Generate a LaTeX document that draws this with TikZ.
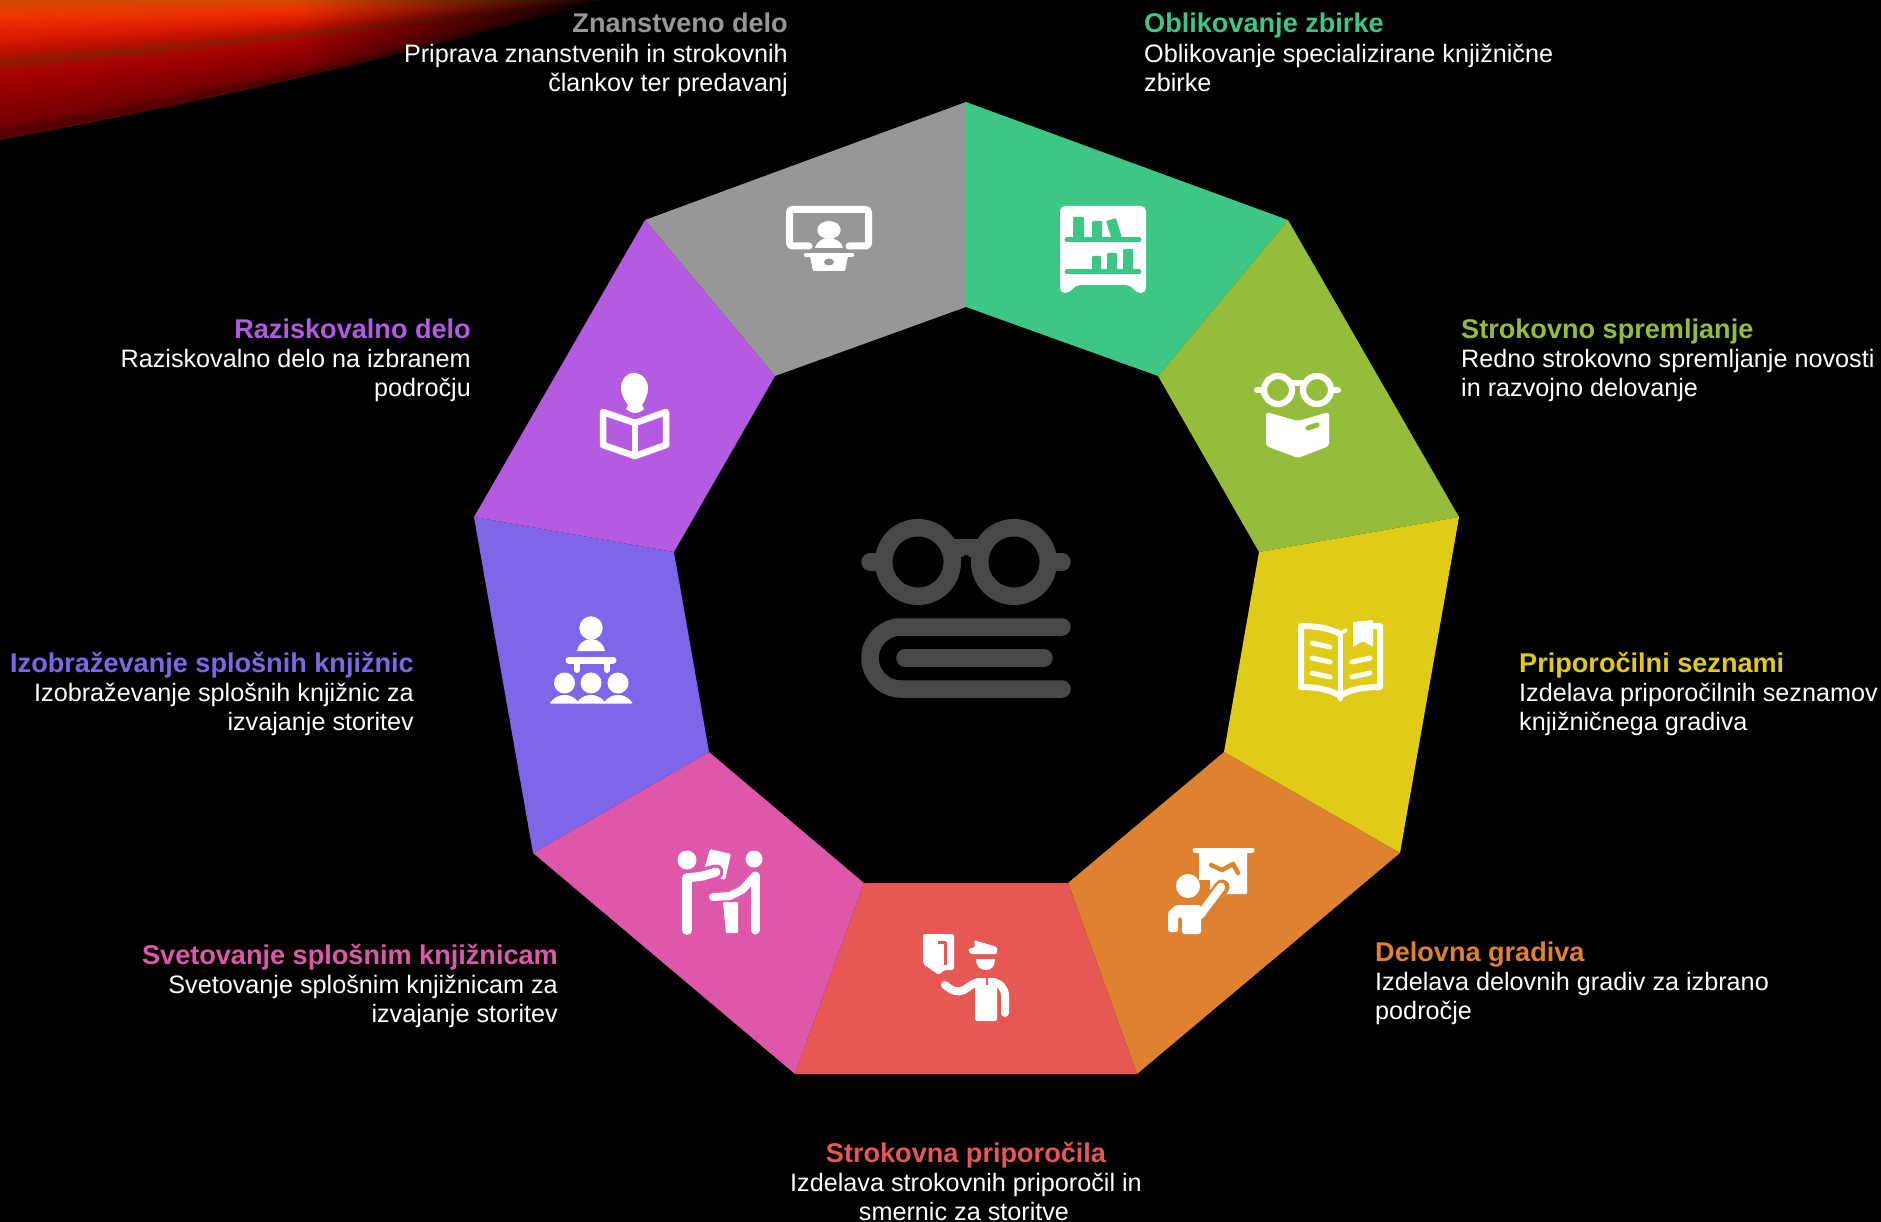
\documentclass[tikz,border=0pt]{standalone}
\usepackage{fontspec}
\setmainfont{Liberation Sans}
\usetikzlibrary{fadings}
\definecolor{cgray}{HTML}{979797}
\definecolor{cgreen}{HTML}{3EC684}
\definecolor{colive}{HTML}{94BD3B}
\definecolor{cyellow}{HTML}{E0CC16}
\definecolor{corange}{HTML}{DE8230}
\definecolor{cred}{HTML}{E75754}
\definecolor{cpink}{HTML}{DF57A8}
\definecolor{cblue}{HTML}{7F66E8}
\definecolor{cpurple}{HTML}{B55BE2}
\definecolor{cdark}{HTML}{484848}
\definecolor{s0}{HTML}{D04C00}
\definecolor{s8}{HTML}{E04000}
\definecolor{sA}{HTML}{F03000}
\definecolor{sB}{HTML}{D81A00}
\definecolor{sC}{HTML}{B81000}
\definecolor{sD}{HTML}{8C1C00}
\definecolor{sE}{HTML}{A80800}
\definecolor{sF}{HTML}{A00000}
\definecolor{sG}{HTML}{780000}
\definecolor{sH}{HTML}{500000}
\definecolor{sI}{HTML}{5A0600}
\tikzset{
  ico/.style={fill=white,draw=none},
  icl/.style={draw=white,line cap=round,line join=round,line width=#1},
  icl/.default=5,
  lbl/.style={inner sep=0pt,text=white,font=\fontsize{25.2}{29}\selectfont},
}
\newcommand{\lbltitle}[2]{{\fontsize{27.1}{29}\selectfont\bfseries\color{#1}\rule{0pt}{20pt}#2}}
\begin{document}
\begin{tikzpicture}[x=1pt,y=-1pt]
\useasboundingbox (0,0) rectangle (1881,1222);
\fill[black] (0,0) rectangle (1881,1222);
% swoosh
\foreach \ta/\tb/\ca/\cb in {140/135/sI/sH,135/124/sH/sG,124/85/sG/sF,85/72/sF/sE,72/63/sE/sD,63/54/sD/sC,54/40/sC/sB,40/20/sB/sA,20/8/sA/s8,8/0/s8/s0}{
  \foreach \k in {0,...,7}{
    \pgfmathsetmacro{\yy}{\ta+(\tb-\ta)*\k/8}
    \pgfmathsetmacro{\kk}{\k*12.5}
    \fill[color=\cb!\kk!\ca] (0,\yy) .. controls (200,0.736*\yy) and (400,0.407*\yy) .. (600,0) -- (0,0) -- cycle;
  }
}
\fill[black,path fading=west] (300,-1) rectangle (625,145);
% segments
\fill[cgray] (966,102) -- (645,220) -- (775,376) -- (966,307) -- cycle;
\fill[cgreen] (966,102) -- (1288,220) -- (1158,376) -- (966,307) -- cycle;
\fill[colive] (1288,220) -- (1459,517) -- (1259,552) -- (1158,376) -- cycle;
\fill[cyellow] (1459,517) -- (1400,853) -- (1224,752) -- (1259,552) -- cycle;
\fill[corange] (1400,853) -- (1137,1074) -- (1068,883) -- (1224,752) -- cycle;
\fill[cred] (1137,1074) -- (795,1074) -- (864,883) -- (1068,883) -- cycle;
\fill[cpink] (795,1074) -- (533,853) -- (709,752) -- (864,883) -- cycle;
\fill[cblue] (533,853) -- (474,517) -- (674,552) -- (709,752) -- cycle;
\fill[cpurple] (474,517) -- (645,220) -- (775,376) -- (674,552) -- cycle;
% labels
\node[lbl,anchor=north east,align=right] (t1) at (788,12) {\lbltitle{cgray}{Znanstveno delo}\\[1pt]Priprava znanstvenih in strokovnih\\člankov ter predavanj};
\node[lbl,anchor=north west,align=left] (t2) at (1144,12) {\lbltitle{cgreen}{Oblikovanje zbirke}\\[1pt]Oblikovanje specializirane knjižnične\\zbirke};
\node[lbl,anchor=north west,align=left] (t3) at (1461,318) {\lbltitle{colive}{Strokovno spremljanje}\\Redno strokovno spremljanje novosti\\in razvojno delovanje};
\node[lbl,anchor=north west,align=left] (t4) at (1519,652) {\lbltitle{cyellow}{Priporočilni seznami}\\Izdelava priporočilnih seznamov\\knjižničnega gradiva};
\node[lbl,anchor=north west,align=left] (t5) at (1375,941) {\lbltitle{corange}{Delovna gradiva}\\Izdelava delovnih gradiv za izbrano\\področje};
\node[lbl,anchor=north,align=center] (t6) at (966,1142.5) {\lbltitle{cred}{Strokovna priporočila}\\Izdelava strokovnih priporočil in\hspace*{4pt}\\smernic za storitve\hspace*{4pt}};
\node[lbl,anchor=north east,align=right] (t7) at (558,944) {\lbltitle{cpink}{Svetovanje splošnim knjižnicam}\\Svetovanje splošnim knjižnicam za\\izvajanje storitev};
\node[lbl,anchor=north east,align=right] (t8) at (414,652) {\lbltitle{cblue}{Izobraževanje splošnih knjižnic}\\Izobraževanje splošnih knjižnic za\\izvajanje storitev};
\node[lbl,anchor=north east,align=right] (t9) at (471,318) {\lbltitle{cpurple}{Raziskovalno delo}\\Raziskovalno delo na izbranem\\področju};
% centre icon
\begin{scope}[draw=cdark,line width=17.5,line cap=round]
\draw (918,562) circle (34.3);
\draw (1014,562) circle (34.3);
\draw (870,562) -- (878,562);
\draw (1054,562) -- (1062,562);
\draw[line cap=butt] (952,548) -- (980,548);
\draw[line cap=round,line join=round] (1062,627) -- (901,627) .. controls (884,627) and (870,641) .. (870,658) .. controls (870,675) and (884,689) .. (901,689) -- (1062,689);
\draw (905,658) -- (1044,658);
\end{scope}
\fill[black] (966,558) circle (3.2);
% gray icon: lecturer on screen
\draw[icl=7] (809,246) -- (793,246) [rounded corners=3pt] -- (789.5,246) -- (789.5,209.5) -- (868.5,209.5) -- (868.5,246) -- (849,246);
\fill[ico] (829,230) ellipse (11.7 and 9);
\fill[ico] (815,248) .. controls (817,241) and (823,238) .. (829,238) .. controls (835,238) and (841,241) .. (843,248) -- cycle;
\draw[icl=4.5] (806,255) -- (852,255);
\fill[ico,rounded corners=1pt] (810,256) -- (848,256) -- (845,271) -- (813,271) -- cycle;
\fill[cgray] (829,262) ellipse (5 and 3.5);
% green icon: bookshelf
\fill[ico,rounded corners=5pt] (1060,206) -- (1146,206) -- (1146,293) -- (1136,293) -- (1131,285) -- (1075,285) -- (1070,293) -- (1060,293) -- cycle;
\draw[icl=5,draw=cgreen] (1067,240) -- (1139,240);
\draw[icl=5,draw=cgreen] (1067,272) -- (1139,272);
\begin{scope}[cgreen,rounded corners=1pt]
\fill (1073,217) rectangle (1084,240);
\fill (1092,221) rectangle (1102,240);
\fill (1106,221) -- (1116,218) -- (1122,238) -- (1112,240) -- cycle;
\fill (1092,256) rectangle (1101,272);
\fill (1107,253) rectangle (1117,272);
\fill (1123,249) rectangle (1133,272);
\end{scope}
% olive icon: glasses and book
\draw[icl=6.2] (1278,390) circle (14);
\draw[icl=6.2] (1317,390) circle (14);
\draw[icl=6] (1257,390) -- (1264,390);
\draw[icl=6] (1331,390) -- (1338,390);
\draw[icl=6,line cap=butt] (1292,383) -- (1303,383);
\fill[ico,rounded corners=3pt] (1266,412) -- (1298,421) -- (1329,412) -- (1329,446) -- (1298,458) -- (1266,446) -- cycle;
\draw[icl=5,draw=colive] (1308,428) -- (1317,425);
% yellow icon: open book
\draw[icl=6] (1340,634) .. controls (1330,628) and (1315,626) .. (1301,626) -- (1301,687) .. controls (1315,687) and (1330,689) .. (1340,696) .. controls (1350,689) and (1365,687) .. (1380,687) -- (1380,626) -- (1373,626);
\draw[icl=5] (1340,634) -- (1340,699);
\draw[icl=3.5] (1340,634) -- (1346,630);
\draw[icl=5] (1312,643) -- (1330,647);
\draw[icl=5] (1312,658) -- (1330,662);
\draw[icl=5] (1312,673) -- (1330,677);
\draw[icl=5] (1352,662) -- (1370,658);
\draw[icl=5] (1352,677) -- (1370,673);
\fill[ico,rounded corners=1pt] (1353,622) -- (1373,620) -- (1373,647) -- (1363,641) -- (1353,647) -- cycle;
% orange icon: pointing at chart
\draw[icl=5] (1195,850) -- (1252,850);
\fill[ico,rounded corners=1pt] (1199,851) -- (1247,851) -- (1247,894) -- (1199,894) -- cycle;
\draw[icl=4.5,draw=corange] (1211,865) -- (1222,870) -- (1233,864) -- (1238,873);
\draw[draw=corange,line width=15,line cap=round] (1222,887) -- (1198,918);
\fill[corange] (1195,880) rectangle (1210,905);
\draw[icl=8.5] (1221,887) -- (1200,915);
\fill[ico] (1188,886) circle (12);
\fill[ico,rounded corners=2.5pt] (1168,932) -- (1168,912) -- (1176,905) -- (1201,905) -- (1201,934) -- (1182,934) -- (1182,917) -- (1178,917) -- (1178,932) -- cycle;
% red icon: officer with sign
\fill[ico,rounded corners=2pt] (923,934) -- (954,934) -- (954,970) -- (944,970) -- (939,975) -- (923,964) -- cycle;
\draw[line width=3,cred,line join=round] (938,942) -- (945,942) -- (945,965);
\fill[ico,rounded corners=1.5pt] (974,940) -- (997,947) -- (997,954) -- (970,954) -- (968,949) -- (975,947) -- cycle;
\fill[ico] (976,959) .. controls (976,966) and (980,970) .. (986,970) .. controls (992,970) and (995,966) .. (995,959) -- cycle;
\draw[icl=8] (945,985) .. controls (952,991) and (958,993) .. (964,990) .. controls (970,986) and (973,983) .. (979,982);
\fill[ico,rounded corners=1.5pt] (975,978) -- (997,978) -- (997,1021) -- (975,1021) -- cycle;
\draw[icl=8] (990,982) .. controls (1000,982) and (1005,988) .. (1005,996) -- (1005,1013);
\draw[line width=1.5,cred] (987,978) -- (987,985);
% pink icon: two people with paper
\fill[ico,rounded corners=1.5pt] (710,849) -- (731,854) -- (725,880) -- (703,873) -- cycle;
\fill[ico] (687,860) circle (9.5);
\draw[draw=cpink,line width=15,line cap=round] (700,876) -- (716,872);
\draw[icl=10] (687,878) -- (687,930);
\draw[icl=9] (687,878) -- (703,876) -- (716,872);
\fill[ico] (754,859) circle (8.5);
\fill[ico,rounded corners=1pt] (723,902) -- (738,902) -- (738,933) -- (726,933) -- cycle;
\draw[draw=cpink,line width=13,line join=round,line cap=round] (750,877) -- (734,893) -- (716,897);
\draw[icl=9] (755,876) -- (755,930);
\draw[icl=8] (755,876) -- (742,890) -- (730,896) -- (713,897);
% purple icon: reader
\fill[ico] (634,373) .. controls (626,373) and (621,380) .. (621,388) .. controls (621,396) and (626,402) .. (628,405) -- (626,409) .. controls (630,412) and (632,413) .. (634,413) .. controls (637,413) and (641,412) .. (644,409) -- (642,405) .. controls (644,402) and (648,396) .. (648,388) .. controls (648,380) and (642,373) .. (634,373) -- cycle;
\draw[icl=6.5] (603,412) -- (635,423) -- (666,412) -- (666,445) -- (635,456) -- (603,445) -- cycle;
\draw[icl=6.5] (635,423) -- (635,456);
% blue icon: teacher and class
\fill[ico] (591,628) circle (11.7);
\fill[ico] (577,651) .. controls (578,644) and (584,639) .. (591,639) .. controls (598,639) and (604,644) .. (605,651) -- cycle;
\draw[icl=7] (569,660) -- (613,660);
\draw[icl=6] (577,662) -- (577,670);
\draw[icl=6] (607,662) -- (607,670);
\foreach \hx in {564.5,591,618}{
  \fill[ico] (\hx,683) circle (10.5);
  \fill[ico,rounded corners=1pt] (\hx-15,703.5) .. controls (\hx-10,697) and (\hx-5,695) .. (\hx,695) .. controls (\hx+5,695) and (\hx+10,697) .. (\hx+15,703.5) -- cycle;
}
\end{tikzpicture}
\end{document}
